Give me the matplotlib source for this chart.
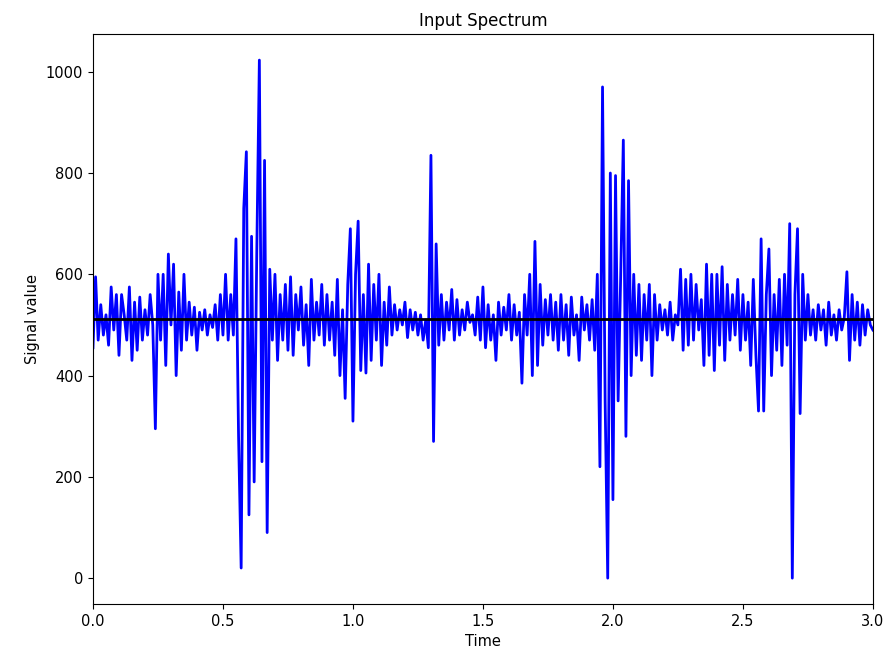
import numpy as np
import matplotlib
matplotlib.use("Agg")
import matplotlib.pyplot as plt

# signal samples, 10 per 0.1 s
signal = [
    455, 595, 470, 540, 480, 520, 460, 575, 490, 560,
    440, 560, 520, 470, 575, 430, 545, 450, 555, 470,
    530, 480, 560, 500, 295, 600, 470, 600, 420, 640,
    500, 620, 400, 565, 450, 600, 470, 545, 480, 535,
    450, 525, 490, 530, 480, 520, 495, 540, 470, 560,
    480, 600, 470, 560, 480, 670, 280, 20, 730, 842,
    125, 675, 190, 640, 1023, 230, 825, 90, 610, 470,
    600, 430, 560, 470, 580, 450, 595, 440, 560, 490,
    575, 460, 540, 420, 590, 470, 545, 480, 580, 460,
    560, 470, 545, 440, 590, 400, 530, 355, 580, 690,
    310, 600, 705, 410, 560, 405, 620, 430, 580, 470,
    600, 420, 545, 460, 575, 480, 540, 490, 530, 500,
    545, 475, 530, 490, 525, 480, 520, 470, 510, 455,
    835, 270, 660, 460, 560, 470, 545, 490, 570, 470,
    550, 480, 530, 490, 545, 505, 520, 480, 555, 470,
    575, 455, 540, 470, 520, 430, 545, 480, 535, 490,
    560, 470, 540, 480, 525, 385, 560, 480, 600, 400,
    665, 420, 580, 460, 550, 480, 560, 470, 545, 450,
    560, 470, 540, 440, 555, 480, 520, 430, 555, 490,
    540, 470, 550, 450, 600, 220, 970, 350, 0, 800,
    155, 795, 350, 600, 865, 280, 785, 400, 600, 440,
    580, 430, 560, 470, 580, 400, 560, 470, 540, 490,
    530, 480, 545, 470, 520, 500, 610, 450, 590, 460,
    600, 470, 580, 490, 550, 420, 620, 440, 600, 410,
    600, 460, 615, 430, 580, 470, 560, 480, 590, 450,
    560, 470, 545, 420, 590, 440, 330, 670, 330, 560,
    650, 400, 560, 450, 590, 420, 600, 460, 700, 0,
    560, 690, 325, 600, 470, 560, 480, 530, 470, 540,
    490, 530, 460, 545, 480, 520, 470, 530, 490, 515,
    605, 430, 560, 470, 545, 460, 540, 480, 530, 500,
    490,
]
time = np.arange(len(signal)) * 0.01
midline = 512

fig = plt.figure(figsize=(8.88, 6.59), dpi=100)
ax = fig.add_axes([0.1047, 0.0835, 0.8783, 0.8645])
ax.plot(time, signal, color="b", linewidth=2)
ax.axhline(midline, color="k", linewidth=2)
ax.set_xlim(0, 3.0)
ax.set_ylim(-51, 1074)
ax.set_title("Input Spectrum", fontsize=12)
ax.set_xlabel("Time", fontsize=10.5)
ax.set_ylabel("Signal value", fontsize=10.5)
ax.tick_params(labelsize=10.5)
fig.savefig("out.png", dpi=100)
